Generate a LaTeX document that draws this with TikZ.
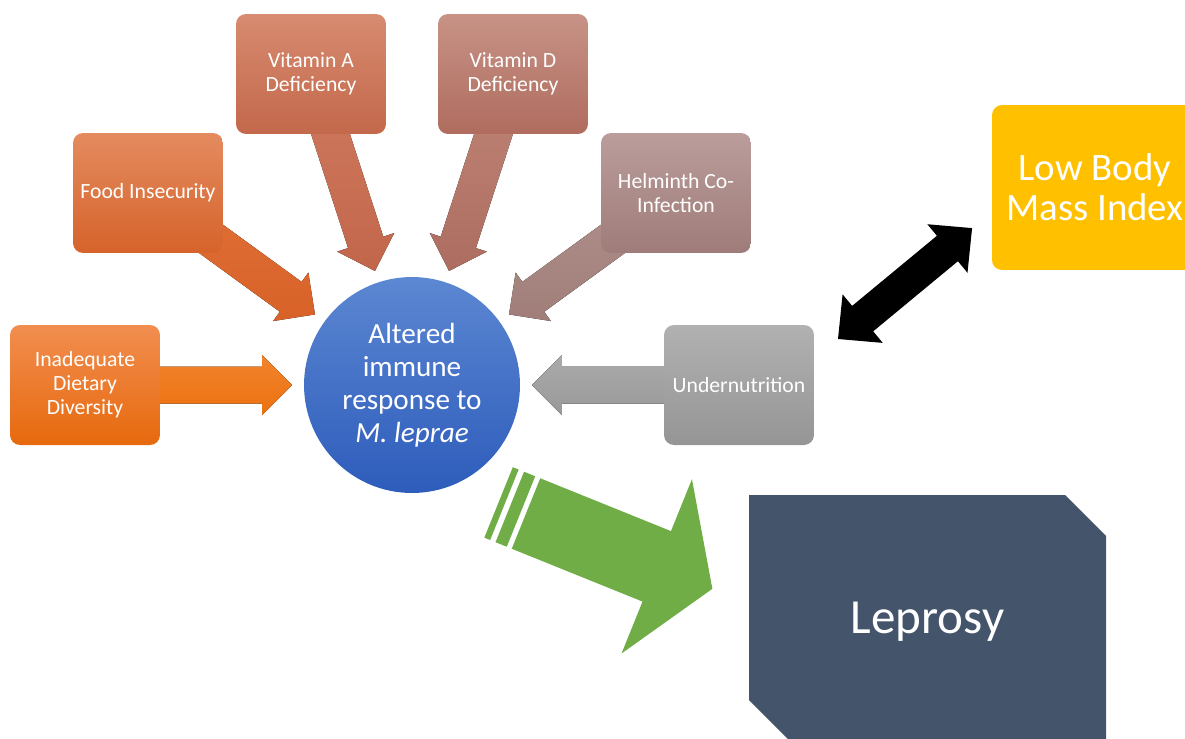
\documentclass[tikz,border=0pt]{standalone}
\usepackage{fontspec}
\setmainfont{Carlito}
\usetikzlibrary{calc}
\pgfdeclarelayer{background}
\pgfsetlayers{background,main}

\definecolor{inTop}{HTML}{F18E50}
\definecolor{inBot}{HTML}{E7690D}
\definecolor{inArT}{HTML}{F2832E}
\definecolor{inArB}{HTML}{EC720F}
\definecolor{fiTop}{HTML}{E48B5F}
\definecolor{fiBot}{HTML}{D6632B}
\definecolor{fiArT}{HTML}{E07139}
\definecolor{fiArB}{HTML}{D86228}
\definecolor{vaTop}{HTML}{D78B70}
\definecolor{vaBot}{HTML}{C3684B}
\definecolor{vaArT}{HTML}{D07B60}
\definecolor{vaArB}{HTML}{C2664B}
\definecolor{vdTop}{HTML}{C79386}
\definecolor{vdBot}{HTML}{AF6C5F}
\definecolor{vdArT}{HTML}{C08677}
\definecolor{vdArB}{HTML}{AD6D61}
\definecolor{hcTop}{HTML}{BA9D9B}
\definecolor{hcBot}{HTML}{9F7C79}
\definecolor{hcArT}{HTML}{B2938F}
\definecolor{hcArB}{HTML}{A07D79}
\definecolor{unTop}{HTML}{B1B1B1}
\definecolor{unBot}{HTML}{959595}
\definecolor{unArT}{HTML}{AAAAAA}
\definecolor{unArB}{HTML}{999999}
\definecolor{imTop}{HTML}{5C87D2}
\definecolor{imBot}{HTML}{2D5CBB}
\definecolor{gArrow}{HTML}{70AD47}
\definecolor{lepCol}{HTML}{44546A}
\definecolor{bmiCol}{HTML}{FFC000}

\tikzset{
  box/.style={rounded corners=0.2cm, minimum width=3cm, minimum height=2.4cm,
    inner sep=0pt, text=white, align=center,
    font=\fontsize{12.35}{13.66}\selectfont},
  immnode/.style={circle, minimum size=4.32cm, inner sep=0pt, text=white,
    align=center, top color=imTop, bottom color=imBot,
    font=\fontsize{16.6}{18.8}\selectfont},
  bminode/.style={rounded corners=0.2cm, minimum width=4.12cm, minimum height=3.3cm,
    inner sep=0pt, fill=bmiCol, text=white, align=center,
    font=\fontsize{22.1}{22.8}\selectfont},
  lepnode/.style={text=white, font=\fontsize{27.9}{30}\selectfont},
}

\newcommand\blockarrow[3]{%
  \coordinate (ba-t) at ($(#3.center)!2.4cm!(#2.center)$);
  \coordinate (ba-s) at (#2.center);
  \coordinate (ba-b) at ($(ba-t)!0.6cm!(ba-s)$);
  \fill[#1] ($(ba-s)!0.37cm!90:(ba-t)$) -- ($(ba-b)!0.37cm!90:(ba-t)$)
    -- ($(ba-b)!0.6cm!90:(ba-t)$) -- (ba-t) -- ($(ba-b)!0.6cm!-90:(ba-t)$)
    -- ($(ba-b)!0.37cm!-90:(ba-t)$) -- ($(ba-s)!0.37cm!-90:(ba-t)$) -- cycle;
}

\begin{document}
\begin{tikzpicture}[x=0.02cm,y=-0.02cm]
\useasboundingbox (0,0) rectangle (1185,738);
\clip (0,0) rectangle (1185,738);

% boxes
\node[box, top color=inTop, bottom color=inBot] (idd) at (85,385) {Inadequate\\Dietary\\Diversity};
\node[box, top color=fiTop, bottom color=fiBot] (fi) at (148,193) {Food Insecurity};
\node[box, top color=vaTop, bottom color=vaBot] (va) at (311,74) {Vitamin A\\Deficiency};
\node[box, top color=vdTop, bottom color=vdBot] (vd) at (513,74) {Vitamin D\\Deficiency};
\node[box, top color=hcTop, bottom color=hcBot] (hc) at (676,193) {Helminth Co-\\Infection};
\node[box, top color=unTop, bottom color=unBot] (un) at (739,385) {Undernutrition};
\node[immnode] (imm) at (412,385) {Altered\\immune\\response to\\\textit{M. leprae}};
\node[bminode] (bmi) at (1095,187.5) {Low Body\\Mass Index};

% leprosy
\fill[lepCol] (749,495) -- (1065,495) -- (1106,536) -- (1106,741) -- (790,741) -- (749,700) -- cycle;
\node[lepnode] (lep) at (927.5,622) {Leprosy};

% arrows behind boxes
\begin{pgfonlayer}{background}
\blockarrow{top color=inArT, bottom color=inArB}{idd}{imm}
\blockarrow{top color=fiArT, bottom color=fiArB}{fi}{imm}
\blockarrow{top color=vaArT, bottom color=vaArB}{va}{imm}
\blockarrow{top color=vdArT, bottom color=vdArB}{vd}{imm}
\blockarrow{top color=hcArT, bottom color=hcArB}{hc}{imm}
\blockarrow{top color=unArT, bottom color=unArB}{un}{imm}
\end{pgfonlayer}

% green striped arrow from immune response to leprosy
\coordinate (g0) at (526,513.5);
\begin{scope}[shift={(g0)}, rotate=-22]
  \fill[gArrow] (0,-38) -- (141,-38) -- (141,-94) -- (201,0) -- (141,94) -- (141,38) -- (0,38) -- cycle;
  \fill[gArrow] (-17.5,-38) rectangle (-5.4,38);
  \fill[gArrow] (-29.6,-38) rectangle (-23.3,38);
\end{scope}

% black double arrow between undernutrition and low BMI
\coordinate (d0) at (838,339);
\begin{scope}[shift={(d0)}, rotate=39.6]
  \fill[black] (0,0) -- (32,-31.5) -- (32,-16.5) -- (142,-16.5) -- (142,-31.5) -- (174,0)
    -- (142,31.5) -- (142,16.5) -- (32,16.5) -- (32,31.5) -- cycle;
\end{scope}
\end{tikzpicture}
\end{document}
